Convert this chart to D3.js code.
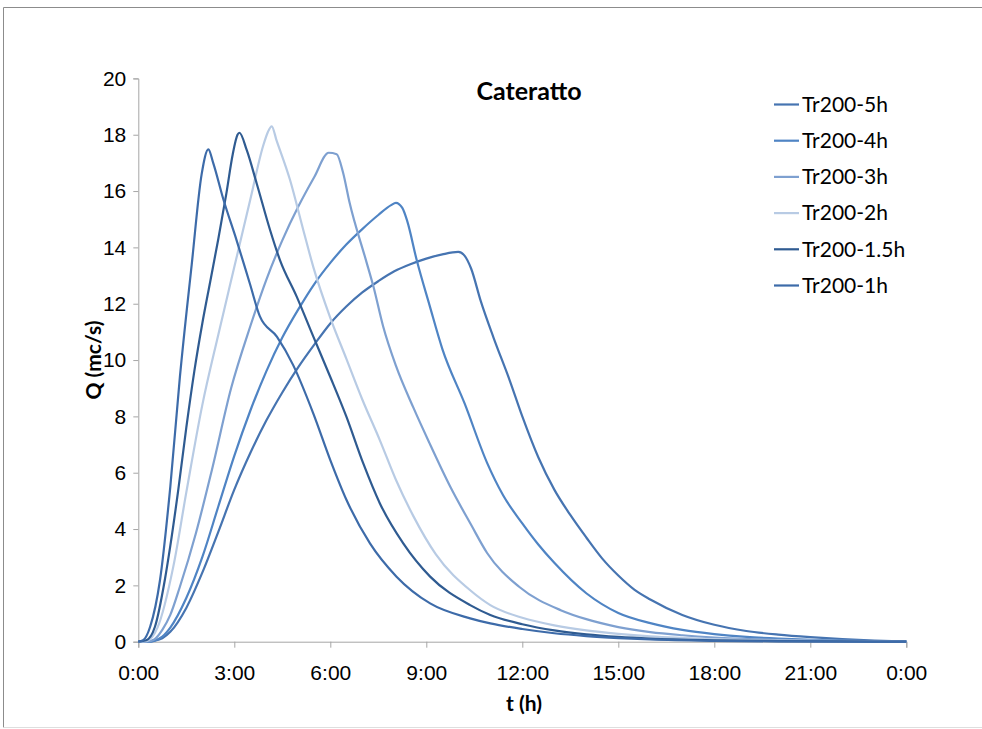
<!DOCTYPE html>
<html>
<head>
<meta charset="utf-8">
<script src="https://cdn.jsdelivr.net/npm/d3@7"></script>
<style>
  body { margin: 0; background: #fff; }
  svg { display: block; font-family: Lato, "Noto Sans", sans-serif; }
  .asse path, .asse line { stroke: #a6a6a6; }
  .asse text { fill: #000; font-size: 21px; }
</style>
</head>
<body>
<div id="graf"></div>
<script>
// Serie (nomi come in legenda) e colori
serie = ['Tr200-5h', 'Tr200-4h', 'Tr200-3h', 'Tr200-2h', 'Tr200-1.5h', 'Tr200-1h']
colori = ['#4674b1', '#4f84c4', '#7ea0d0', '#b8cbe4', '#2f5b91', '#3d6ba9']

// tempi (ore) e portate Q (mc/s)
t5 = [0, 0.25, 0.5, 0.75, 1, 1.5, 2, 2.5, 3, 3.5, 4, 4.5, 5, 5.5, 6, 6.5, 7, 7.5, 8, 8.5, 9, 9.5, 10, 10.2, 10.4, 10.7, 11.1, 11.6, 12, 12.5, 13, 13.5, 14, 14.5, 15, 15.5, 16, 17, 18, 19, 20, 21, 22, 23, 24]
q5 = [0, 0, 0.03, 0.12, 0.35, 1.2, 2.45, 3.9, 5.4, 6.7, 7.85, 8.85, 9.75, 10.55, 11.3, 11.9, 12.4, 12.8, 13.15, 13.4, 13.6, 13.75, 13.84, 13.7, 13.25, 12.1, 10.8, 9.3, 8.0, 6.55, 5.4, 4.5, 3.7, 2.95, 2.35, 1.85, 1.5, 0.95, 0.6, 0.38, 0.25, 0.16, 0.09, 0.04, 0.01]

t4 = [0, 0.25, 0.5, 0.75, 1, 1.5, 2, 2.5, 3, 3.5, 4, 4.5, 5, 5.5, 6, 6.5, 7, 7.5, 7.9, 8.05, 8.25, 8.4, 8.7, 9.1, 9.5, 10.2, 10.9, 11.4, 12, 12.5, 13, 14, 15, 16, 17, 18, 19, 20, 21, 22, 23, 24]
q4 = [0, 0, 0.04, 0.18, 0.5, 1.55, 3.0, 4.8, 6.6, 8.2, 9.6, 10.8, 11.8, 12.7, 13.45, 14.1, 14.65, 15.15, 15.5, 15.58, 15.4, 14.95, 13.55, 11.95, 10.4, 8.45, 6.35, 5.2, 4.2, 3.45, 2.8, 1.72, 1.02, 0.66, 0.42, 0.27, 0.17, 0.11, 0.07, 0.04, 0.02, 0.01]

t3 = [0, 0.25, 0.5, 0.75, 1, 1.3, 1.8, 2.3, 2.9, 3.5, 4, 4.5, 5, 5.5, 5.95, 6.2, 6.4, 6.6, 7.1, 7.35, 7.65, 8.05, 8.6, 9.1, 9.75, 10.4, 10.9, 11.9, 13.2, 14, 15, 16, 17, 18, 20, 22, 24]
q3 = [0, 0, 0.08, 0.42, 0.95, 1.95, 3.85, 6.1, 9.0, 11.2, 12.85, 14.25, 15.45, 16.5, 17.36, 17.31, 16.65, 15.6, 13.6, 12.6, 11.2, 9.8, 8.3, 7.05, 5.5, 4.15, 3.15, 1.95, 1.12, 0.8, 0.52, 0.34, 0.23, 0.15, 0.07, 0.03, 0.01]

t2 = [0, 0.25, 0.6, 1.1, 1.5, 2, 2.5, 3, 3.5, 3.9, 4.05, 4.17, 4.32, 4.74, 5.16, 5.47, 6, 6.5, 7, 7.55, 8.05, 8.6, 9.3, 10.4, 11, 12, 13, 14, 15, 16, 18, 20, 22, 24]
q2 = [0, 0.02, 0.5, 2.7, 5.3, 8.4, 10.9, 13.3, 15.7, 17.6, 18.1, 18.3, 17.8, 16.4, 14.6, 13.3, 11.5, 10.05, 8.6, 7.15, 5.75, 4.45, 3.1, 1.8, 1.3, 0.85, 0.58, 0.4, 0.28, 0.19, 0.09, 0.04, 0.02, 0]

t15 = [0, 0.25, 0.52, 0.83, 1, 1.25, 1.5, 1.75, 2, 2.25, 2.5, 2.75, 2.95, 3.1, 3.16, 3.39, 3.7, 4.12, 4.43, 4.95, 5.47, 6, 6.5, 7.03, 7.55, 8.28, 9.12, 10.37, 11, 12, 13, 14, 15, 16, 18, 20, 22, 24]
q15 = [0, 0.05, 0.53, 2.2, 3.4, 5.4, 7.6, 9.6, 11.3, 12.8, 14.3, 15.9, 17.3, 18.0, 18.07, 17.45, 16.27, 14.61, 13.54, 12.25, 10.83, 9.4, 8.0, 6.33, 4.91, 3.49, 2.31, 1.3, 0.95, 0.62, 0.4, 0.26, 0.17, 0.11, 0.05, 0.02, 0.01, 0]

t1 = [0, 0.15, 0.37, 0.68, 1, 1.3, 1.67, 1.98, 2.19, 2.34, 2.66, 3.07, 3.49, 3.8, 4.33, 4.84, 5.47, 6, 6.5, 7.24, 8.07, 9.12, 10.37, 11, 12, 13, 14, 15, 16, 18, 20, 24]
q1 = [0, 0.05, 0.53, 2.2, 5.5, 9.4, 13.4, 16.6, 17.48, 17.0, 15.7, 14.26, 12.7, 11.55, 10.83, 9.82, 8.1, 6.45, 5.05, 3.49, 2.31, 1.36, 0.83, 0.65, 0.45, 0.3, 0.2, 0.13, 0.08, 0.03, 0.01, 0]

tempi = [t5, t4, t3, t2, t15, t1]
portate = [q5, q4, q3, q2, q15, q1]

// etichette assi
tickX = [0, 3, 6, 9, 12, 15, 18, 21, 24]
tickY = [0, 2, 4, 6, 8, 10, 12, 14, 16, 18, 20]

anchoTotal = 982
altoTotal = 729
margen = { superior: 78.4, izquierdo: 138.3, derecho: 75.7, inferior: 87.3 }
ancho = anchoTotal - margen.izquierdo - margen.derecho
alto = altoTotal - margen.superior - margen.inferior

svg = d3.select('#graf').append('svg')
        .attr('width', anchoTotal)
        .attr('height', altoTotal)

// cornice
svg.append('line').attr('x1', 3.5).attr('y1', 7.5).attr('x2', anchoTotal).attr('y2', 7.5).attr('stroke', '#8c8c8c')
svg.append('line').attr('x1', 3.5).attr('y1', 7.5).attr('x2', 3.5).attr('y2', 727.5).attr('stroke', '#8c8c8c')
svg.append('line').attr('x1', 3.5).attr('y1', 727.5).attr('x2', anchoTotal).attr('y2', 727.5).attr('stroke', '#dedede')

g = svg.append('g')
       .attr('transform', `translate(${ margen.izquierdo }, ${ margen.superior })`)

x = d3.scaleLinear().domain([0, 24]).range([0, ancho])
y = d3.scaleLinear().domain([0, 20]).range([alto, 0])

// assi
g.append('g')
  .attr('class', 'asse')
  .attr('transform', `translate(0, ${ alto })`)
  .call(d3.axisBottom(x).tickValues(tickX).tickSize(6).tickPadding(17)
          .tickFormat(d => (d % 24) + ':00'))

g.append('g')
  .attr('class', 'asse')
  .call(d3.axisLeft(y).tickValues(tickY).tickSize(5).tickPadding(7))

g.selectAll('.asse .domain').attr('stroke', '#a6a6a6')

// linee
linea = d3.line()
  .x(d => x(d[0]))
  .y(d => y(d[1]))
  .curve(d3.curveMonotoneX)

serie.forEach((s, i) => {
  dati = d3.zip(tempi[i], portate[i])
  g.append('path')
    .datum(dati)
    .attr('fill', 'none')
    .attr('stroke', colori[i])
    .attr('stroke-width', 2.2)
    .attr('stroke-linejoin', 'round')
    .attr('d', linea)
})

// titoli
svg.append('text').attr('x', 529).attr('y', 100).attr('text-anchor', 'middle')
   .style('font-weight', 'bold').style('font-size', '25px').text('Cateratto')
svg.append('text').attr('x', 524).attr('y', 711).attr('text-anchor', 'middle')
   .style('font-weight', 'bold').style('font-size', '21px').text('t (h)')
svg.append('text').attr('transform', 'translate(101, 360) rotate(-90)').attr('text-anchor', 'middle')
   .style('font-weight', 'bold').style('font-size', '21px').text('Q (mc/s)')

// legenda
leg = svg.append('g').attr('transform', 'translate(774, 104.5)')
serie.forEach((s, i) => {
  leg.append('line')
    .attr('x1', 0).attr('x2', 25)
    .attr('y1', i * 36.2).attr('y2', i * 36.2)
    .attr('stroke', colori[i]).attr('stroke-width', 2.2)
  leg.append('text')
    .attr('x', 28).attr('y', i * 36.2).attr('dy', '0.35em')
    .style('font-size', '21px').text(s)
})
</script>
</body>
</html>
